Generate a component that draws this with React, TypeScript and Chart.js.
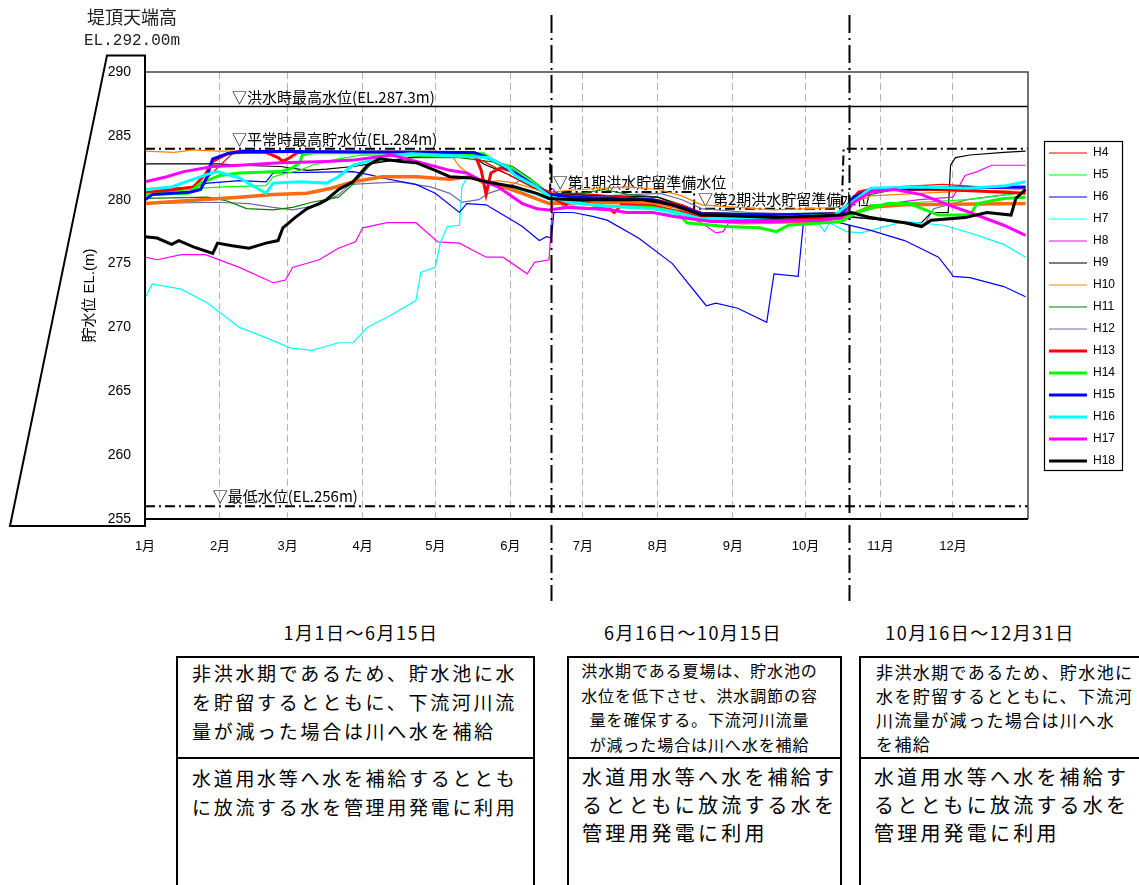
import React, { useEffect, useRef } from "react";
import { Chart, registerables } from "chart.js";

Chart.register(...registerables);

type Pt = [number, number];

// ---- axes -----------------------------------------------------------------
const MONTH_START_DAYS = [0, 31, 59, 90, 120, 151, 181, 212, 243, 273, 304, 334];
const MONTH_LABELS = ["1月", "2月", "3月", "4月", "5月", "6月", "7月", "8月", "9月", "10月", "11月", "12月"];
const DAY_MIN = 0;
const DAY_MAX = 365;
const LEVEL_MIN = 255;
const LEVEL_MAX = 290;
const LEVEL_STEP = 5;

// ---- series (day of year, EL m) ------------------------------------------
const YEAR_LABELS = ["H4", "H5", "H6", "H7", "H8", "H9", "H10", "H11", "H12", "H13", "H14", "H15", "H16", "H17", "H18"];
const YEAR_COLORS = ["#ff0000", "#00ff00", "#0000ff", "#00ffff", "#ff00ff", "#000000", "#ff8000", "#008000", "#6b6baa", "#ff0000", "#00ff00", "#0000ff", "#00ffff", "#ff00ff", "#000000"];
const YEAR_WIDTHS = [1.2, 1.2, 1.2, 1.2, 1.2, 1.2, 1.2, 1.2, 1.2, 3, 3, 3, 3, 3, 3];

const H4: Pt[] = [[0, 280.6], [12, 280.9], [22, 281.0], [30, 282.5], [36, 283.6], [60, 283.7], [130, 283.7], [140, 283.0], [150, 282.0], [160, 281.0], [167, 280.4], [180, 280.5], [200, 280.2], [212, 280.0], [222, 279.6], [230, 279.0], [260, 278.8], [288, 279.0], [295, 280.4], [310, 281.0], [330, 281.2], [345, 281.0], [364, 280.9]];
const H5: Pt[] = [[0, 280.4], [23, 280.9], [33, 281.0], [50, 281.1], [53, 281.8], [59, 282.1], [64, 282.3], [69, 282.7], [80, 283.2], [90, 283.5], [140, 283.3], [150, 282.7], [160, 281.5], [167, 280.5], [180, 280.2], [200, 280.0], [212, 279.8], [222, 279.2], [230, 278.5], [260, 278.2], [288, 278.5], [300, 279.6], [320, 279.8], [340, 280.0], [364, 280.6]];
const H6: Pt[] = [[0, 280.3], [16, 280.9], [26, 281.3], [39, 281.5], [50, 281.4], [53, 282.1], [86, 282.2], [94, 281.9], [98, 281.7], [112, 281.2], [120, 280.5], [130, 279.0], [133, 279.7], [141, 279.6], [149, 278.7], [156, 277.9], [163, 276.8], [166, 277.1], [168, 277.0], [169, 279.0], [177, 279.0], [185, 278.7], [191, 278.4], [204, 277.0], [218, 275.0], [232, 271.7], [236, 271.9], [245, 271.5], [257, 270.4], [260, 274.2], [270, 274.0], [272, 277.9], [273, 278.3], [287, 278.2], [300, 277.6], [314, 276.8], [328, 275.5], [333, 274.3], [334, 274.0], [341, 273.9], [355, 273.2], [364, 272.4]];
const H7: Pt[] = [[0, 272.3], [3, 273.4], [15, 273.0], [26, 271.9], [39, 270.0], [50, 269.2], [60, 268.4], [69, 268.2], [80, 268.8], [86, 268.8], [92, 270.0], [102, 271.0], [112, 272.1], [114, 274.3], [120, 274.7], [122, 276.6], [125, 277.9], [130, 278.0], [131, 281.0], [133, 281.7], [140, 281.6], [150, 281.0], [160, 280.5], [167, 280.0], [180, 279.4], [200, 279.0], [212, 279.0], [222, 278.8], [230, 278.5], [260, 278.3], [278, 278.2], [281, 277.5], [283, 278.2], [290, 277.5], [296, 277.4], [314, 278.3], [330, 278.0], [341, 277.4], [355, 276.5], [364, 275.5]];
const H8: Pt[] = [[0, 275.5], [5, 275.3], [15, 275.7], [25, 275.7], [39, 274.7], [53, 273.5], [58, 273.7], [61, 274.7], [72, 275.3], [80, 276.2], [87, 276.7], [90, 277.8], [100, 278.2], [112, 278.2], [121, 276.7], [130, 276.6], [141, 275.5], [148, 275.5], [158, 274.2], [161, 275.1], [167, 275.3], [169, 280.8], [173, 279.4], [180, 279.3], [200, 279.6], [212, 279.4], [220, 279.0], [230, 278.2], [236, 277.4], [239, 277.5], [242, 278.4], [260, 278.5], [288, 278.5], [300, 279.5], [320, 280.0], [334, 280.2], [339, 281.9], [344, 282.2], [350, 282.7], [364, 282.7]];
const H9: Pt[] = [[0, 282.8], [30, 282.8], [39, 282.7], [56, 282.6], [67, 282.3], [75, 282.4], [86, 282.6], [110, 283.3], [119, 283.5], [135, 283.5], [140, 282.8], [150, 282.0], [160, 281.0], [167, 280.5], [190, 280.3], [212, 280.2], [222, 279.5], [230, 279.0], [260, 278.8], [288, 278.7], [300, 278.5], [315, 278.2], [321, 278.2], [325, 279.0], [332, 279.0], [333, 282.7], [335, 283.3], [341, 283.5], [355, 283.7], [364, 283.8]];
const H10: Pt[] = [[0, 283.8], [12, 283.7], [20, 283.9], [30, 283.8], [60, 283.8], [120, 283.8], [127, 283.4], [130, 282.6], [134, 282.0], [139, 281.3], [146, 281.5], [153, 281.3], [160, 280.9], [167, 280.6], [180, 280.8], [200, 281.0], [212, 280.8], [222, 280.3], [230, 279.6], [260, 279.2], [288, 279.4], [300, 280.3], [330, 280.6], [364, 280.8]];
const H11: Pt[] = [[0, 280.1], [26, 280.2], [34, 279.9], [42, 279.3], [53, 279.2], [61, 279.4], [69, 279.8], [80, 280.2], [86, 281.2], [94, 282.9], [110, 283.3], [130, 283.3], [146, 282.9], [152, 282.6], [159, 281.7], [167, 280.5], [180, 280.5], [190, 280.8], [200, 280.4], [212, 280.2], [222, 279.6], [230, 279.0], [260, 278.9], [288, 279.0], [295, 280.2], [310, 280.8], [328, 281.0], [364, 281.0]];
const H12: Pt[] = [[0, 279.7], [30, 279.8], [43, 279.7], [53, 279.4], [61, 279.2], [72, 279.6], [80, 280.4], [85, 281.2], [105, 281.4], [118, 281.0], [126, 280.5], [131, 279.8], [138, 280.0], [142, 280.5], [150, 281.0], [157, 281.7], [162, 280.8], [167, 280.4], [190, 280.3], [213, 280.5], [222, 280.0], [230, 279.3], [250, 279.0], [288, 278.8], [300, 278.5], [315, 278.2], [322, 278.0], [326, 279.3], [340, 280.0], [364, 280.6]];
const H13: Pt[] = [[0, 280.5], [12, 280.8], [20, 281.0], [25, 282.0], [28, 283.0], [34, 283.6], [40, 283.8], [50, 283.7], [55, 283.3], [57, 283.0], [60, 283.3], [63, 283.7], [136, 283.7], [139, 282.3], [141, 280.4], [143, 282.1], [147, 282.5], [152, 282.2], [156, 281.6], [164, 280.8], [167, 280.6], [170, 280.0], [174, 279.6], [178, 280.2], [185, 279.6], [191, 279.4], [194, 279.0], [197, 279.6], [210, 279.5], [222, 279.0], [230, 278.6], [260, 278.4], [285, 278.6], [290, 279.5], [295, 280.6], [300, 280.8], [330, 280.8], [364, 280.5]];
const H14: Pt[] = [[0, 280.4], [18, 280.5], [23, 281.3], [31, 281.9], [39, 282.1], [56, 282.2], [61, 282.5], [64, 282.9], [65, 283.5], [70, 283.7], [140, 283.6], [145, 282.9], [150, 282.5], [162, 281.0], [167, 280.2], [180, 279.7], [190, 279.5], [210, 279.4], [220, 279.0], [224, 278.2], [240, 277.9], [254, 277.8], [261, 277.5], [266, 278.0], [281, 278.2], [288, 278.3], [294, 279.0], [307, 279.7], [316, 279.7], [328, 278.8], [341, 278.8], [344, 279.7], [355, 280.1], [364, 280.2]];
const H15: Pt[] = [[0, 280.0], [3, 280.4], [19, 280.6], [23, 280.8], [26, 281.9], [27, 282.7], [28, 283.2], [34, 283.6], [40, 283.8], [136, 283.7], [143, 283.2], [153, 282.1], [162, 281.0], [167, 280.4], [178, 280.2], [210, 280.0], [222, 279.4], [230, 278.9], [260, 278.8], [288, 278.9], [293, 280.2], [300, 280.8], [330, 280.9], [364, 281.0]];
const H16: Pt[] = [[0, 280.8], [11, 281.0], [26, 282.0], [30, 282.2], [39, 281.7], [50, 280.5], [53, 281.3], [64, 281.4], [75, 281.3], [80, 281.8], [86, 282.7], [92, 283.0], [98, 283.4], [110, 283.6], [142, 283.3], [150, 282.5], [153, 281.9], [162, 281.0], [167, 280.3], [175, 279.8], [190, 279.5], [210, 279.3], [220, 279.0], [230, 278.5], [260, 278.6], [285, 278.8], [290, 279.5], [300, 280.9], [320, 281.0], [340, 280.9], [356, 281.1], [364, 281.4]];
const H17: Pt[] = [[0, 281.4], [9, 281.8], [16, 282.2], [28, 282.6], [39, 282.7], [56, 282.9], [75, 283.0], [86, 283.1], [102, 283.5], [112, 283.0], [120, 282.6], [126, 282.3], [133, 282.1], [139, 281.5], [146, 281.0], [156, 279.7], [162, 279.3], [167, 279.2], [175, 279.4], [185, 279.3], [193, 279.2], [199, 279.0], [210, 279.0], [218, 278.7], [234, 278.3], [260, 278.3], [280, 278.4], [288, 278.6], [293, 279.8], [300, 280.6], [310, 280.8], [321, 280.4], [332, 279.6], [341, 279.0], [355, 278.0], [364, 277.2]];
const H18: Pt[] = [[0, 277.1], [5, 277.0], [11, 276.5], [14, 276.8], [20, 276.3], [28, 275.8], [30, 276.6], [36, 276.4], [43, 276.2], [50, 276.6], [55, 276.8], [57, 277.8], [62, 278.6], [67, 279.3], [72, 279.7], [75, 280.0], [80, 280.8], [86, 281.4], [92, 282.7], [97, 283.2], [106, 283.0], [112, 282.9], [120, 282.3], [126, 281.8], [135, 281.7], [141, 281.4], [153, 281.0], [162, 280.5], [167, 280.1], [178, 280.0], [206, 280.0], [213, 279.8], [218, 279.6], [224, 279.2], [230, 278.8], [247, 278.7], [261, 278.6], [275, 278.7], [288, 278.8], [292, 279.0], [300, 278.6], [307, 278.4], [314, 278.2], [321, 277.9], [325, 278.4], [339, 278.6], [348, 279.0], [358, 278.8], [360, 280.1], [364, 280.8]];
const AVERAGE: Pt[] = [[0, 279.7], [23, 280.0], [39, 280.2], [53, 280.4], [67, 280.5], [77, 280.9], [86, 281.4], [98, 281.8], [112, 281.8], [126, 281.6], [134, 281.8], [145, 281.2], [156, 280.5], [167, 279.7], [190, 279.8], [212, 279.7], [220, 279.4], [231, 278.4], [247, 278.2], [275, 278.3], [288, 278.6], [300, 279.4], [314, 279.6], [364, 279.7]];

// ---- reference levels ------------------------------------------------------
const FLOOD_HWL: Pt[] = [[0, 287.3], [365, 287.3]];
const RULE_CURVE: Pt[] = [[0, 284], [167.5, 284], [167.5, 280.6], [227, 280.6], [227, 279.3], [288, 279.3], [288.8, 284], [365, 284]];
const LOW_WL: Pt[] = [[0, 256], [365, 256]];
const PERIOD_BOUNDS = [167.8, 291.1];
const DAM_CREST_DRAWN = 291.3;
const DAM_BASE_DRAWN = 254.45;

const REF_LABEL_TEXT = ["▽洪水時最高水位(EL.287.3m)", "▽平常時最高貯水位(EL.284m)", "▽第1期洪水貯留準備水位", "▽第2期洪水貯留準備水位", "▽最低水位(EL.256m)"];
const REF_LABEL_DAY = [36, 36, 168.6, 228.6, 28];
const REF_LABEL_LEVEL = [287.3, 284, 280.6, 279.3, 256];

const SERIES = [H4, H5, H6, H7, H8, H9, H10, H11, H12, H13, H14, H15, H16, H17, H18];

const toXY = (pts: Pt[]) => pts.map(([d, v]) => ({ x: d, y: v }));

const JP = "'Noto Sans CJK JP', sans-serif";
const MIXED = "'Liberation Sans', 'Noto Sans CJK JP', sans-serif";

const decorPlugin = {
  id: "decor",
  afterLayout(chart: any) {
    const lg = chart.legend;
    const ca = chart.chartArea;
    if (!lg || !ca) return;
    const w = lg.width;
    const h = lg.height;
    lg.left = ca.right + 11;
    lg.right = lg.left + w;
    lg.top = ca.top + 65;
    lg.bottom = lg.top + h;
  },
  beforeDatasetsDraw(chart: any) {
    const { ctx, scales } = chart;
    const x = scales.x;
    const y = scales.y;
    ctx.save();
    ctx.fillStyle = "#000";
    ctx.font = "15px " + JP;
    ctx.textAlign = "left";
    ctx.textBaseline = "bottom";
    REF_LABEL_TEXT.forEach((t, i) => {
      ctx.fillText(t, x.getPixelForValue(REF_LABEL_DAY[i]), y.getPixelForValue(REF_LABEL_LEVEL[i]) - 2);
    });
    ctx.restore();
  },
  afterDatasetsDraw(chart: any) {
    const { ctx, chartArea: ca, scales } = chart;
    const y = scales.y;
    ctx.save();
    // frame
    ctx.strokeStyle = "#444";
    ctx.lineWidth = 1.5;
    ctx.beginPath();
    ctx.moveTo(ca.left, ca.top);
    ctx.lineTo(ca.right, ca.top);
    ctx.lineTo(ca.right, ca.bottom);
    ctx.stroke();
    // dam body
    const top = y.getPixelForValue(DAM_CREST_DRAWN);
    const bot = y.getPixelForValue(DAM_BASE_DRAWN);
    ctx.strokeStyle = "#000";
    ctx.lineWidth = 2;
    ctx.beginPath();
    ctx.moveTo(ca.left - 38, top);
    ctx.lineTo(ca.left, top);
    ctx.lineTo(ca.left, bot);
    ctx.lineTo(ca.left - 135, bot);
    ctx.closePath();
    ctx.stroke();
    ctx.beginPath();
    ctx.moveTo(ca.left, ca.bottom);
    ctx.lineTo(ca.right, ca.bottom);
    ctx.stroke();
    // crest text
    ctx.fillStyle = "#222";
    ctx.textAlign = "center";
    ctx.textBaseline = "middle";
    ctx.font = "18px " + JP;
    ctx.fillText("堤頂天端高", ca.left - 13, 17);
    ctx.font = "16px 'Liberation Mono', monospace";
    ctx.fillText("EL.292.00m", ca.left - 13, 41);
    ctx.restore();
  },
  afterDraw(chart: any) {
    const { ctx, scales } = chart;
    const x = scales.x;
    ctx.save();
    // period separators
    ctx.strokeStyle = "#000";
    ctx.lineWidth = 2;
    ctx.setLineDash([18, 5, 2, 5]);
    PERIOD_BOUNDS.forEach((d) => {
      const px = Math.round(x.getPixelForValue(d)) + 0.5;
      ctx.beginPath();
      ctx.moveTo(px, 15);
      ctx.lineTo(px, 601);
      ctx.stroke();
    });
    ctx.setLineDash([]);
    // legend frame
    const lg = chart.legend;
    if (lg && lg.legendHitBoxes && lg.legendHitBoxes.length) {
      const hb = lg.legendHitBoxes;
      let l = Infinity, r = -Infinity, t = Infinity, b = -Infinity;
      hb.forEach((h: any) => {
        l = Math.min(l, h.left);
        r = Math.max(r, h.left + h.width);
        t = Math.min(t, h.top);
        b = Math.max(b, h.top + h.height);
      });
      ctx.lineWidth = 1.2;
      ctx.strokeStyle = "#000";
      ctx.strokeRect(Math.round(l - 5) + 0.5, Math.round(t - 6) + 0.5, Math.round(r - l + 12), Math.round(b - t + 9));
    }
    ctx.restore();
  },
};

const HEADINGS = ["1月1日～6月15日", "6月16日～10月15日", "10月16日～12月31日"];
const HEADING_CENTERS = [361, 693, 980];

const BOX1_UPPER = ["非洪水期であるため、貯水池に水", "を貯留するとともに、下流河川流", "量が減った場合は川へ水を補給"];
const BOX1_LOWER = ["水道用水等へ水を補給するととも", "に放流する水を管理用発電に利用"];
const BOX2_UPPER = ["洪水期である夏場は、貯水池の", "水位を低下させ、洪水調節の容", "量を確保する。下流河川流量", "が減った場合は川へ水を補給"];
const BOX2_LOWER = ["水道用水等へ水を補給す", "るとともに放流する水を", "管理用発電に利用"];
const BOX3_UPPER = ["非洪水期であるため、貯水池に", "水を貯留するとともに、下流河", "川流量が減った場合は川へ水", "を補給"];
const BOX3_LOWER = ["水道用水等へ水を補給す", "るとともに放流する水を", "管理用発電に利用"];

function Lines({ lines, style }: { lines: string[]; style: React.CSSProperties }) {
  return (
    <div style={style}>
      {lines.map((l, i) => (
        <div key={i} style={{ whiteSpace: "nowrap" }}>{l}</div>
      ))}
    </div>
  );
}

function Box(props: {
  left: number; width: number;
  upper: string[]; lower: string[];
  upperStyle: React.CSSProperties; lowerStyle: React.CSSProperties;
}) {
  return (
    <div style={{ position: "absolute", left: props.left, top: 656, width: props.width, height: 260, border: "2px solid #000", boxSizing: "border-box" }}>
      <div style={{ height: 99, borderBottom: "2px solid #000", overflow: "hidden" }}>
        <Lines lines={props.upper} style={props.upperStyle} />
      </div>
      <Lines lines={props.lower} style={props.lowerStyle} />
    </div>
  );
}

export default function App() {
  const ref = useRef<HTMLCanvasElement>(null);

  useEffect(() => {
    if (!ref.current) return;
    Chart.defaults.color = "#000";
    Chart.defaults.font.family = MIXED;

    const yearSets = SERIES.map((s, i) => ({
      label: YEAR_LABELS[i],
      data: toXY(s),
      borderColor: YEAR_COLORS[i],
      backgroundColor: YEAR_COLORS[i],
      borderWidth: YEAR_WIDTHS[i],
      pointRadius: 0,
      pointHoverRadius: 0,
      tension: 0,
      fill: false,
      order: YEAR_WIDTHS[i] > 2 ? 19 - i : 20,
    }));
    const refStyle = { pointRadius: 0, pointHoverRadius: 0, tension: 0, fill: false, borderColor: "#000", backgroundColor: "#000", order: 30 };
    const datasets: any[] = [
      ...yearSets,
      { label: "平均", data: toXY(AVERAGE), borderColor: "#ff6a10", backgroundColor: "#ff6a10", borderWidth: 3.5, pointRadius: 0, tension: 0, fill: false, order: 12 },
      { ...refStyle, label: "洪水時最高水位", data: toXY(FLOOD_HWL), borderWidth: 1.5 },
      { ...refStyle, label: "貯留準備水位", data: toXY(RULE_CURVE), borderWidth: 2, borderDash: [10, 4, 2, 4] },
      { ...refStyle, label: "最低水位", data: toXY(LOW_WL), borderWidth: 2, borderDash: [10, 4, 2, 4] },
    ];

    const chart = new Chart(ref.current, {
      type: "line",
      data: { datasets },
      plugins: [decorPlugin as any],
      options: {
        responsive: false,
        maintainAspectRatio: false,
        animation: false,
        devicePixelRatio: 1,
        events: [],
        layout: { padding: { top: 72, right: 25, bottom: 0, left: 0 } },
        scales: {
          x: {
            type: "linear",
            min: DAY_MIN,
            max: DAY_MAX,
            afterFit: (s: any) => { s.height = 91; },
            afterBuildTicks: (s: any) => { s.ticks = MONTH_START_DAYS.map((v) => ({ value: v })); },
            ticks: {
              autoSkip: false,
              maxRotation: 0,
              padding: 20,
              font: { size: 13, family: MIXED },
              color: "#000",
              callback: (_v: any, i: number) => MONTH_LABELS[i],
            },
            grid: { display: true, color: "#b5b5b5", lineWidth: 1, drawTicks: false },
            border: { display: true, color: "#000", width: 2, dash: [7, 4] },
          },
          y: {
            type: "linear",
            min: LEVEL_MIN,
            max: LEVEL_MAX,
            afterFit: (s: any) => { s.width = 145; },
            ticks: { stepSize: LEVEL_STEP, padding: 14, font: { size: 14, family: MIXED }, color: "#000" },
            grid: { display: false, drawTicks: false },
            border: { display: false },
            title: { display: true, text: "貯水位 EL.(m)", font: { size: 15, family: MIXED }, color: "#000", padding: { top: 81, bottom: 0 } },
          },
        },
        plugins: {
          legend: {
            display: true,
            position: "right",
            align: "start",
            labels: {
              usePointStyle: true,
              pointStyle: "line",
              pointStyleWidth: 38,
              boxWidth: 38,
              padding: 10,
              color: "#000",
              font: { size: 12, family: "'Liberation Sans', sans-serif" },
              filter: (item: any) => item.datasetIndex < YEAR_LABELS.length,
              sort: (a: any, b: any) => a.datasetIndex - b.datasetIndex,
            },
          },
          tooltip: { enabled: false },
        },
      } as any,
    });
    return () => chart.destroy();
  }, []);

  const upperBig: React.CSSProperties = { fontSize: 19, letterSpacing: "2.7px", lineHeight: "29px", paddingLeft: 14, paddingTop: 0 };
  const lowerBig1: React.CSSProperties = { fontSize: 19, letterSpacing: "2.7px", lineHeight: "29px", paddingLeft: 14, paddingTop: 4 };
  const lowerBig23: React.CSSProperties = { fontSize: 20, letterSpacing: "3.2px", lineHeight: "28px", paddingLeft: 13, paddingTop: 4 };
  const upper2: React.CSSProperties = { fontSize: 16, letterSpacing: "0.9px", lineHeight: "24.6px", textAlign: "center", paddingTop: 0, paddingRight: 10 };
  const upper3: React.CSSProperties = { fontSize: 17, letterSpacing: "1.4px", lineHeight: "24px", paddingLeft: 15, paddingTop: 2 };

  return (
    <div style={{ position: "absolute", left: 0, top: 0, width: 1139, height: 885, overflow: "hidden", background: "#fff", fontFamily: JP, color: "#000" }}>
      <canvas ref={ref} width={1139} height={610} style={{ position: "absolute", left: 0, top: 0, width: 1139, height: 610, display: "block" }} />
      {HEADINGS.map((h, i) => (
        <div key={h} style={{ position: "absolute", left: HEADING_CENTERS[i] - 150, top: 620, width: 300, textAlign: "center", fontSize: 18, letterSpacing: "1.5px", lineHeight: "24px", whiteSpace: "nowrap" }}>{h}</div>
      ))}
      <Box left={176} width={359} upper={BOX1_UPPER} lower={BOX1_LOWER} upperStyle={upperBig} lowerStyle={lowerBig1} />
      <Box left={567} width={275} upper={BOX2_UPPER} lower={BOX2_LOWER} upperStyle={upper2} lowerStyle={lowerBig23} />
      <Box left={859} width={300} upper={BOX3_UPPER} lower={BOX3_LOWER} upperStyle={upper3} lowerStyle={lowerBig23} />
    </div>
  );
}
